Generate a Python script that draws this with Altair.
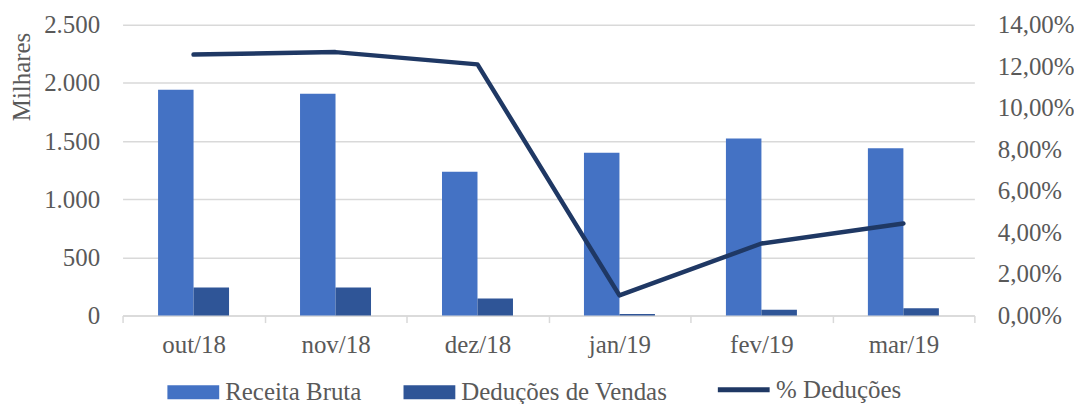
import altair as alt
import pandas as pd

months = ["out/18", "nov/18", "dez/18", "jan/19", "fev/19", "mar/19"]
receita = [1940, 1906, 1237, 1400, 1522, 1437]
deducoes = [242, 242, 147, 13, 50, 62]
pct = [0.1256, 0.1268, 0.1209, 0.0097, 0.0347, 0.0443]
series = ["Receita Bruta", "Deduções de Vendas"]
line_name = "% Deduções"
left_ticks = [0, 500, 1000, 1500, 2000, 2500]
right_ticks = [0, 0.02, 0.04, 0.06, 0.08, 0.10, 0.12, 0.14]

bars_df = pd.DataFrame({
    "mes": months * 2,
    "serie": [series[0]] * len(months) + [series[1]] * len(months),
    "valor": receita + deducoes,
})
line_df = pd.DataFrame({"mes": months, "pct": pct, "serie": [line_name] * len(months)})

FONT = "Liberation Serif"
GRAY = "#595959"
GRID = "#D9D9D9"
FS = 25

x_enc = alt.X(
    "mes:N", sort=months,
    scale=alt.Scale(paddingInner=0, paddingOuter=0),
    axis=alt.Axis(title=None, labelAngle=0, tickBand="extent", ticks=True, tickSize=7,
                  tickColor=GRID, tickWidth=1.5, domainColor=GRID, domainWidth=1.5,
                  labelPadding=10, labelFontSize=FS, labelColor=GRAY, labelFont=FONT,
                  grid=False),
)

bars = alt.Chart(bars_df).mark_bar().encode(
    x=x_enc,
    xOffset=alt.XOffset("serie:N", sort=series,
                        scale=alt.Scale(paddingInner=0, paddingOuter=1)),
    y=alt.Y("valor:Q", scale=alt.Scale(domain=[0, 2500], nice=False),
            axis=alt.Axis(values=left_ticks, title="Milhares",
                          labelExpr="replace(format(datum.value, ','), ',', '.')",
                          grid=True, gridColor=GRID, gridWidth=1.5, domain=False,
                          ticks=False, tickSize=0, labelPadding=23, labelFontSize=FS,
                          labelColor=GRAY, labelFont=FONT,
                          titleX=-101, titleY=52, titleAngle=-90, titleAlign="center",
                          titleBaseline="middle", titleFontSize=FS,
                          titleFontWeight="normal", titleColor=GRAY, titleFont=FONT)),
    color=alt.Color("serie:N", sort=series,
                    scale=alt.Scale(domain=series, range=["#4472C4", "#2F5597"]),
                    legend=alt.Legend(title=None, orient="none", legendX=45, legendY=343,
                                      direction="horizontal",
                                      symbolType="M-1,-0.27H1V0.27H-1Z",
                                      symbolSize=2704, symbolStrokeWidth=0,
                                      symbolOpacity=1, labelLimit=500,
                                      labelFontSize=FS, labelFont=FONT, labelColor=GRAY,
                                      labelOffset=6, columnPadding=42, padding=0)),
)

line = alt.Chart(line_df).mark_line(strokeWidth=4.5, strokeCap="round",
                                    strokeJoin="round").encode(
    x=x_enc,
    y=alt.Y("pct:Q", scale=alt.Scale(domain=[0, 0.14], nice=False),
            axis=alt.Axis(orient="right", values=right_ticks, title=None,
                          labelExpr="replace(format(datum.value, '.2%'), '.', ',')",
                          grid=False, ticks=False, tickSize=0, domain=False,
                          labelPadding=23, labelFontSize=FS, labelColor=GRAY,
                          labelFont=FONT)),
    stroke=alt.Stroke("serie:N",
                      scale=alt.Scale(domain=[line_name], range=["#1F3864"]),
                      legend=alt.Legend(title=None, orient="none", legendX=595, legendY=338,
                                        direction="horizontal", symbolType="stroke",
                                        symbolSize=2704, symbolStrokeWidth=5,
                                        labelLimit=500,
                                        labelFontSize=FS, labelFont=FONT, labelColor=GRAY,
                                        labelOffset=4, padding=0)),
)

chart = alt.layer(bars, line).resolve_scale(y="independent").properties(
    width=855, height=292,
    autosize=alt.AutoSizeParams(type="none"),
    padding={"left": 115, "top": 16, "right": 100, "bottom": 88},
).configure_view(stroke=None)

chart.save("out.html", embed_options={"renderer": "svg", "actions": False})
